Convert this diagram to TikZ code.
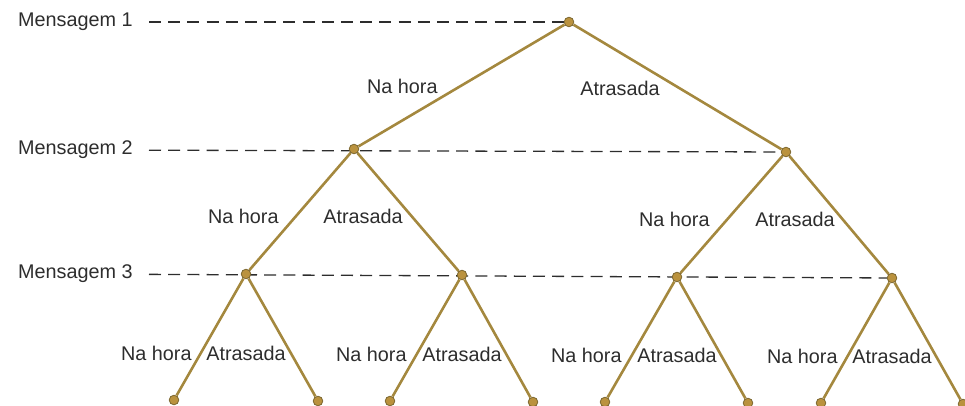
\documentclass[tikz,border=0pt]{standalone}
\usepackage{fontspec}
\setmainfont{Liberation Sans}
\usepackage{xcolor}
\usetikzlibrary{positioning,backgrounds}

\definecolor{branchcol}{RGB}{164,136,62}
\definecolor{dotcol}{RGB}{186,146,62}
\definecolor{textcol}{RGB}{45,45,45}

\begin{document}
\begin{tikzpicture}[
    x=0.5pt, y=-0.5pt,
    dot/.style={circle, fill=dotcol, draw=branchcol!75!black, line width=0.4pt, inner sep=0pt, minimum size=4.8pt},
    branch/.style={draw=branchcol, line width=1.3pt},
    guide/.style={draw=textcol, line width=0.65pt, dash pattern=on 6pt off 3.6pt, shorten <=8pt},
    lab/.style={font=\fontsize{9.9}{12}\selectfont, text=textcol, inner sep=0pt, anchor=east}
]
\useasboundingbox (0,0) rectangle (965,406);

% Root
\node[dot] (r) at (569,22) {};

% Level 1
\node[dot] (a) at (354,149) {};
\node[dot] (b) at (786,152) {};

% Level 2
\node[dot] (aa) at (246,274) {};
\node[dot] (ab) at (462,275) {};
\node[dot] (ba) at (677,277) {};
\node[dot] (bb) at (892,278) {};

% Leaves
\node[dot] (aaa) at (174,400) {};
\node[dot] (aab) at (318,401) {};
\node[dot] (aba) at (390,401) {};
\node[dot] (abb) at (533,402) {};
\node[dot] (baa) at (605,402) {};
\node[dot] (bab) at (748,403) {};
\node[dot] (bba) at (821,403) {};
\node[dot] (bbb) at (963,404) {};

% Message levels
\node[lab] (m1) at (133,22) {Mensagem 1};
\node[lab] (m2) at (133,150) {Mensagem 2};
\node[lab] (m3) at (133,274) {Mensagem 3};

% Branch labels
\node[lab] (n0) at (438,86) {Na hora};
\node[lab] (t0) at (660,88) {Atrasada};
\node[lab] (na) at (279,216) {Na hora};
\node[lab] (ta) at (403,216) {Atrasada};
\node[lab] (nb) at (710,219) {Na hora};
\node[lab] (tb) at (835,219) {Atrasada};
\node[lab] (naa) at (192,353) {Na hora};
\node[lab] (taa) at (286,353) {Atrasada};
\node[lab] (nab) at (407,354) {Na hora};
\node[lab] (tab) at (502,354) {Atrasada};
\node[lab] (nba) at (622,355) {Na hora};
\node[lab] (tba) at (717,355) {Atrasada};
\node[lab] (nbb) at (838,356) {Na hora};
\node[lab] (tbb) at (932,356) {Atrasada};

% Edges
\begin{scope}[on background layer]
\draw[guide] (m1) -- (r);
\draw[guide] (m2) -- (b);
\draw[guide] (m3) -- (bb);

\draw[branch] (r) -- (a);
\draw[branch] (r) -- (b);
\draw[branch] (a) -- (aa);
\draw[branch] (a) -- (ab);
\draw[branch] (b) -- (ba);
\draw[branch] (b) -- (bb);
\draw[branch] (aa) -- (aaa);
\draw[branch] (aa) -- (aab);
\draw[branch] (ab) -- (aba);
\draw[branch] (ab) -- (abb);
\draw[branch] (ba) -- (baa);
\draw[branch] (ba) -- (bab);
\draw[branch] (bb) -- (bba);
\draw[branch] (bb) -- (bbb);
\end{scope}

\end{tikzpicture}
\end{document}
